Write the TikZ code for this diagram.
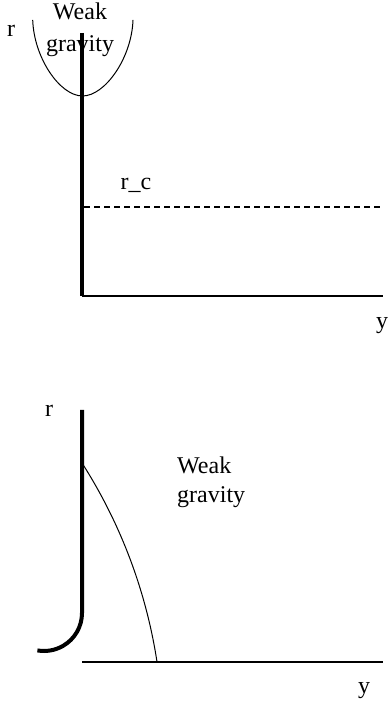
\documentclass[tikz,border=0pt]{standalone}
\usepackage{fontspec}
\setmainfont{Liberation Serif}
\begin{document}
\begin{tikzpicture}[x=1pt,y=1pt,
  lbl/.style={inner sep=0pt,font=\fontsize{24}{26}\selectfont},
  thickline/.style={line width=4pt},
  thinline/.style={line width=1.4pt},
  curveline/.style={line width=1pt}]
\useasboundingbox (0,0) rectangle (388,708);
% ---------- top panel ----------
\coordinate (t1) at (82,675);
\coordinate (t0) at (82,412);
\coordinate (tx) at (383,412);
\coordinate (d0) at (84,501);
\coordinate (d1) at (383,501);
\coordinate (pl) at (32.7,688);
\coordinate (pv) at (82.5,612);
\coordinate (pr) at (133,688);
\draw[thickline] (t1) -- (t0);
\draw[thinline] (t0) -- (tx);
\draw[thinline,dash pattern=on 6pt off 4pt] (d0) -- (d1);
\draw[curveline] (pl) .. controls (34,650) and (60,612) .. (pv)
  .. controls (105,612) and (131.7,650) .. (pr);
\node[lbl,anchor=base] (tr) at (11,671) {r};
\node[lbl,anchor=base] (tw) at (80,688) {Weak};
\node[lbl,anchor=base] (tg) at (80,656) {gravity};
\node[lbl,anchor=base] (rc) at (136,518) {r\_c};
\node[lbl,anchor=base] (ty) at (382,379) {y};
% ---------- bottom panel ----------
\coordinate (b1) at (82,298);
\coordinate (b0) at (82,95);
\coordinate (b2) at (82,46);
\coordinate (bx) at (383,46);
\draw[thickline] (b1) -- (b0) arc[start angle=0,end angle=-100,radius=38];
\draw[thinline] (b2) -- (bx);
\draw[curveline] (82,245) arc[start angle=32.6,end angle=8.7,radius=513.8];
\node[lbl,anchor=base] (br) at (49,291) {r};
\node[lbl,anchor=base west] (bw) at (177,234) {Weak};
\node[lbl,anchor=base west] (bg) at (177,205) {gravity};
\node[lbl,anchor=base] (by) at (364,14) {y};
\end{tikzpicture}
\end{document}
